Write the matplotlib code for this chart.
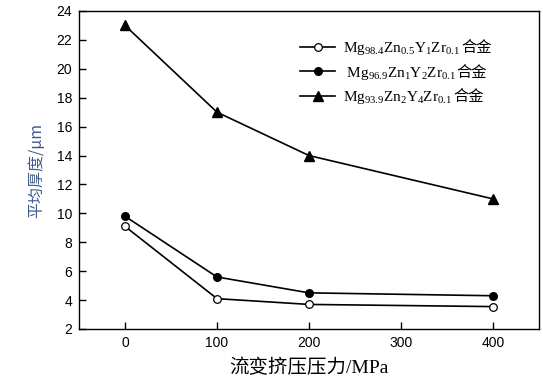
import matplotlib
matplotlib.use("Agg")
import matplotlib.pyplot as plt

pressure = [0, 100, 200, 400]
alloy1 = [9.1, 4.1, 3.7, 3.55]
alloy2 = [9.8, 5.6, 4.5, 4.3]
alloy3 = [23.0, 17.0, 14.0, 11.0]
labels = [r'Mg$_{\mathrm{98.4}}$Zn$_{\mathrm{0.5}}$Y$_{\mathrm{1}}$Zr$_{\mathrm{0.1}}$',
          r' Mg$_{\mathrm{96.9}}$Zn$_{\mathrm{1}}$Y$_{\mathrm{2}}$Zr$_{\mathrm{0.1}}$',
          r'Mg$_{\mathrm{93.9}}$Zn$_{\mathrm{2}}$Y$_{\mathrm{4}}$Zr$_{\mathrm{0.1}}$']
suffix = '合金'
xticks = [0, 100, 200, 300, 400]
yticks = list(range(2, 25, 2))

plt.rcParams['mathtext.fontset'] = 'custom'
plt.rcParams['mathtext.rm'] = 'Liberation Serif'
plt.rcParams['mathtext.it'] = 'Liberation Serif:italic'

fig = plt.figure(figsize=(5.43, 3.81), dpi=100)
ax = fig.add_axes([79/543, 1-329/381, (539-79)/543, (329-11)/381])

ax.plot(pressure, alloy1, color='black', lw=1.2, marker='o', ms=5.5,
        mfc='white', mec='black', mew=0.9, label=labels[0])
ax.plot(pressure, alloy2, color='black', lw=1.2, marker='o', ms=5.5,
        mfc='black', mec='black', label=labels[1])
ax.plot(pressure, alloy3, color='black', lw=1.2, marker='^', ms=7.5,
        mfc='black', mec='black', label=labels[2])

ax.set_xlim(-50, 450)
ax.set_ylim(2, 24)
ax.set_xticks(xticks)
ax.set_yticks(yticks)
ax.tick_params(direction='in', length=5, width=1, labelsize=10, pad=5)
for lab in ax.get_xticklabels() + ax.get_yticklabels():
    lab.set_family('Liberation Sans')
for s in ax.spines.values():
    s.set_linewidth(1.0)

ax.set_xlabel('流变挤压压力/MPa', fontsize=14,
              family=['Liberation Serif', 'Noto Sans CJK SC'], labelpad=6)
ax.set_ylabel('平均厚度/μm', fontsize=11.5, color='#3f5a8f',
              family=['Noto Sans CJK SC', 'Liberation Serif'], labelpad=8)

leg = ax.legend(loc='upper left', bbox_to_anchor=(221/460, 1 - 29/318), frameon=False,
                prop={'family': 'Liberation Serif', 'size': 11},
                handlelength=2.3, handletextpad=0.5, labelspacing=0.5,
                borderaxespad=0, borderpad=0)

fig.canvas.draw()
inv = fig.transFigure.inverted()
for t in leg.get_texts():
    bb = t.get_window_extent()
    x1, y0 = inv.transform((bb.x1 + 1, (bb.y0 + bb.y1) / 2 + 1))
    fig.text(x1, y0, suffix, fontsize=11, family='Noto Sans CJK SC',
             ha='left', va='center')

fig.savefig('out.png', dpi=100)
